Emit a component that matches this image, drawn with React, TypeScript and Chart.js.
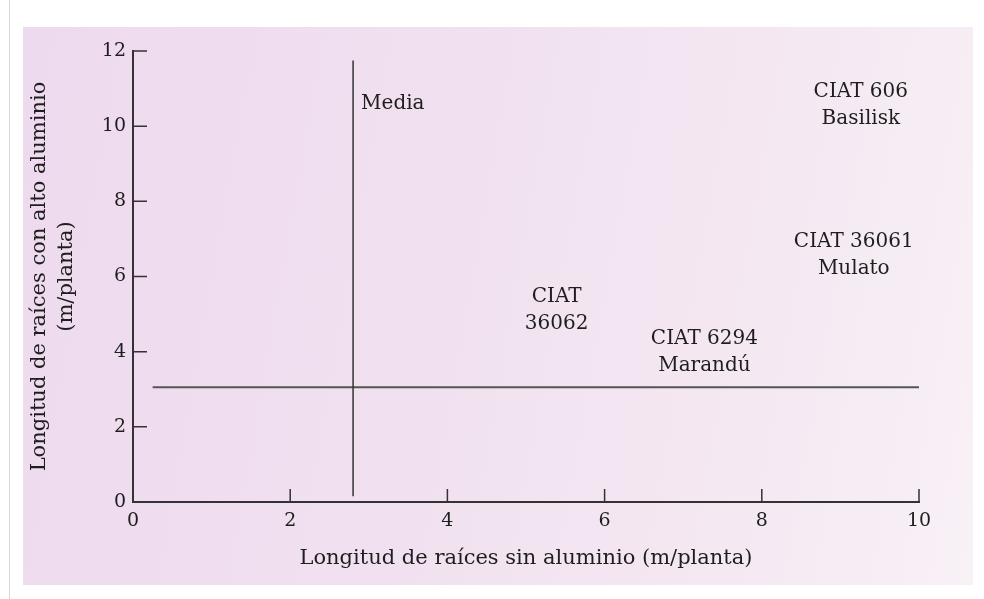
import React, { useEffect, useRef } from "react";
import { Chart, registerables } from "chart.js";

Chart.register(...registerables);

// ---- data ----
const cultivarLabels: string[][] = [
  ["CIAT 606", "Basilisk"],
  ["CIAT 36061", "Mulato"],
  ["CIAT", "36062"],
  ["CIAT 6294", "Marandú"],
];
const cultivarX: number[] = [9.26, 9.17, 5.39, 7.27];
const cultivarY: number[] = [10.55, 6.57, 5.1, 3.99];

const meanX = 2.8; // media of roots without aluminium
const meanXLineY: number[] = [0.15, 11.75];
const meanY = 3.05; // media of roots with high aluminium
const meanYLineX: number[] = [0.25, 10];
const meanLabel = "Media";
const meanLabelY = 10.6;

const xTicks: number[] = [0, 2, 4, 6, 8, 10];
const yTicks: number[] = [0, 2, 4, 6, 8, 10, 12];

const xTitle = "Longitud de raíces sin aluminio (m/planta)";
const yTitle = ["Longitud de raíces con alto aluminio", "(m/planta)"];

const FONT = "'DejaVu Serif', 'Liberation Serif', serif";
const TEXT = "#1e1e1e";

const labelPlugin = {
  id: "pointLabels",
  afterDatasetsDraw(chart: any) {
    const ctx = chart.ctx;
    ctx.save();
    ctx.fillStyle = TEXT;
    ctx.font = `20px ${FONT}`;
    ctx.textBaseline = "middle";
    // cultivar labels
    const meta = chart.getDatasetMeta(2);
    meta.data.forEach((pt: any, i: number) => {
      const lines = cultivarLabels[i];
      const lh = 27;
      const y0 = pt.y - ((lines.length - 1) * lh) / 2;
      ctx.textAlign = "center";
      lines.forEach((ln, j) => ctx.fillText(ln, pt.x, y0 + j * lh));
    });
    // media label
    const m = chart.getDatasetMeta(3);
    m.data.forEach((pt: any) => {
      ctx.textAlign = "left";
      ctx.fillText(meanLabel, pt.x + 8, pt.y);
    });
    ctx.restore();
  },
};

const tickPlugin = {
  id: "innerTicks",
  afterDraw(chart: any) {
    const ctx = chart.ctx;
    const xs = chart.scales.x;
    const ys = chart.scales.y;
    ctx.save();
    ctx.strokeStyle = "#333";
    ctx.lineWidth = 1.5;
    ctx.beginPath();
    xTicks.forEach((v) => {
      if (v === 0) return;
      const px = xs.getPixelForValue(v);
      ctx.moveTo(px, ys.bottom);
      ctx.lineTo(px, ys.bottom - 13);
    });
    yTicks.forEach((v) => {
      if (v === 0) return;
      const py = ys.getPixelForValue(v);
      ctx.moveTo(xs.left, py);
      ctx.lineTo(xs.left + 14, py);
    });
    ctx.stroke();
    ctx.restore();
  },
};

export default function App() {
  const ref = useRef<HTMLCanvasElement | null>(null);

  useEffect(() => {
    if (!ref.current) return;
    const chart = new Chart(ref.current, {
      type: "scatter",
      data: {
        datasets: [
          {
            label: "Media X",
            data: meanXLineY.map((y) => ({ x: meanX, y })),
            showLine: true,
            borderColor: "#333",
            borderWidth: 1.5,
            pointRadius: 0,
          },
          {
            label: "Media Y",
            data: meanYLineX.map((x) => ({ x, y: meanY })),
            showLine: true,
            borderColor: "#555",
            borderWidth: 2,
            pointRadius: 0,
          },
          {
            label: "Cultivares",
            data: cultivarX.map((x, i) => ({ x, y: cultivarY[i] })),
            pointRadius: 0,
          },
          {
            label: "Media",
            data: [{ x: meanX, y: meanLabelY }],
            pointRadius: 0,
          },
        ],
      },
      options: {
        animation: false,
        responsive: true,
        maintainAspectRatio: false,
        layout: { padding: { left: 0, top: 51, right: 65, bottom: 0 } },
        plugins: {
          legend: { display: false },
          tooltip: { enabled: false },
        },
        scales: {
          x: {
            type: "linear",
            min: 0,
            max: 10,
            afterFit: (s: any) => {
              s.height = 97;
            },
            afterBuildTicks: (s: any) => {
              s.ticks = xTicks.map((v) => ({ value: v }));
            },
            ticks: {
              color: TEXT,
              font: { family: FONT, size: 19 },
              padding: 8,
              maxRotation: 0,
              autoSkip: false,
            },
            grid: { display: false, drawTicks: false },
            border: { display: true, color: "#333", width: 2 },
            title: {
              display: true,
              text: xTitle,
              color: TEXT,
              font: { family: FONT, size: 21, lineHeight: 1.2 },
              padding: { top: 0, bottom: 28 },
            },
          },
          y: {
            type: "linear",
            min: 0,
            max: 12,
            afterFit: (s: any) => {
              s.width = 133;
            },
            afterBuildTicks: (s: any) => {
              s.ticks = yTicks.map((v) => ({ value: v }));
            },
            ticks: {
              color: TEXT,
              font: { family: FONT, size: 19 },
              padding: 7,
              autoSkip: false,
            },
            grid: { display: false, drawTicks: false },
            border: { display: true, color: "#333", width: 2 },
            title: {
              display: true,
              text: yTitle,
              color: TEXT,
              font: { family: FONT, size: 21, lineHeight: 1.29 },
              padding: { top: 26, bottom: 0 },
            },
          },
        },
      },
      plugins: [labelPlugin, tickPlugin],
    });
    return () => chart.destroy();
  }, []);

  return (
    <div
      style={{
        position: "fixed",
        left: 0,
        top: 0,
        width: 984,
        height: 599,
        background: "#ffffff",
      }}
    >
      <div
        style={{
          position: "absolute",
          left: 9,
          top: 0,
          width: 1,
          height: 599,
          background: "#d6d6d6",
        }}
      />
      <div
        style={{
          position: "absolute",
          left: 23,
          top: 27,
          width: 950,
          height: 558,
          background:
            "linear-gradient(100deg, #eedaee 0%, #f1e1f0 45%, #f4e8f2 75%, #f8f1f6 100%)",
        }}
      />
      <canvas
        ref={ref}
        style={{ position: "absolute", left: 0, top: 0, width: 984, height: 599 }}
      />
    </div>
  );
}
